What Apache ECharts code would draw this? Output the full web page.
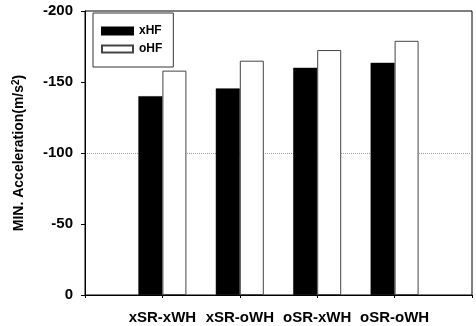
<!DOCTYPE html>
<html>
<head>
<meta charset="utf-8">
<script src="https://cdn.jsdelivr.net/npm/echarts@6/dist/echarts.min.js"></script>
<style>
html,body{margin:0;padding:0;background:#fff;}
#chart{width:476px;height:326px;}
</style>
</head>
<body>
<div id="chart"></div>
<script>
const categories = ['xSR-xWH', 'xSR-oWH', 'oSR-xWH', 'oSR-oWH'];
const seriesNames = ['xHF', 'oHF'];
const xHF = [-140, -145.5, -160, -163.5];
const oHF = [-158, -165, -172.5, -179];
const yTicks = [-200, -150, -100, -50, 0];

const xData = [''].concat(categories, ['']);
const pad = arr => [null].concat(arr, [null]);
const font = '"Liberation Sans", Arial, sans-serif';
const clear = 'rgba(0,0,0,0)';

const chart = echarts.init(document.getElementById('chart'));
chart.setOption({
  animation: false,
  backgroundColor: '#fff',
  grid: { left: 85, right: 4, top: 11, bottom: 31, show: true, borderColor: '#000', borderWidth: 1, backgroundColor: clear },
  legend: {
    orient: 'vertical', left: 93, top: 13,
    borderColor: '#333', borderWidth: 1, padding: [12, 11, 12, 8],
    itemWidth: 31, itemHeight: 7, itemGap: 6, icon: 'rect',
    textStyle: { fontFamily: font, fontWeight: 'bold', fontSize: 12, color: '#000', padding: [0, 0, 0, 1] },
    data: seriesNames
  },
  xAxis: {
    type: 'category', data: xData, boundaryGap: false,
    axisLine: { lineStyle: { color: '#000', width: 1 } },
    axisTick: { show: true, length: 3, lineStyle: { color: '#000' } },
    axisLabel: { fontFamily: font, fontWeight: 'bold', fontSize: 15, color: '#000', margin: 15, interval: 0 },
    splitLine: { show: false }
  },
  yAxis: {
    type: 'value', inverse: true, min: yTicks[0], max: yTicks[yTicks.length - 1], interval: 50,
    axisLine: { show: true, lineStyle: { color: '#000', width: 1 } },
    axisTick: { show: true, length: 4, lineStyle: { color: '#000' } },
    axisLabel: { fontFamily: font, fontWeight: 'bold', fontSize: 15, color: '#000', margin: 12 },
    splitLine: { show: true, lineStyle: { type: 'dotted', width: 1, color: [clear, clear, '#999', clear, clear] } },
    name: 'MIN. Acceleration(m/s{sup|2})',
    nameLocation: 'middle', nameGap: 57, nameRotate: 90,
    nameTextStyle: {
      fontFamily: font, fontWeight: 'bold', fontSize: 14, color: '#000',
      rich: { sup: { fontFamily: font, fontWeight: 'bold', fontSize: 10, color: '#000', verticalAlign: 'top', padding: [0, 0, 7, 0] } }
    }
  },
  series: [
    {
      name: seriesNames[0], type: 'bar', data: pad(xHF), barWidth: 24, barGap: '0%',
      itemStyle: { color: '#000', borderColor: '#000', borderWidth: 0.5 }
    },
    {
      name: seriesNames[1], type: 'bar', data: pad(oHF), barWidth: 24, barGap: '0%',
      itemStyle: { color: '#fff', borderColor: '#444', borderWidth: 1 }
    }
  ]
});
</script>
</body>
</html>
